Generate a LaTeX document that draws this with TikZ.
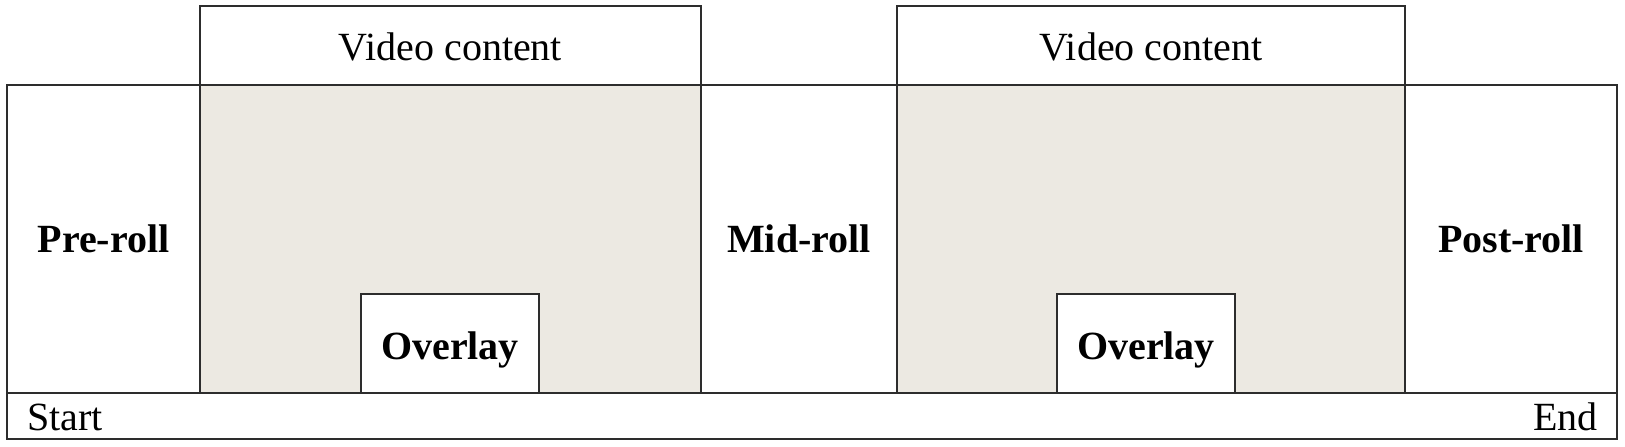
\documentclass[tikz,border=0pt]{standalone}
\usepackage{fontspec}
\setmainfont{Liberation Serif}
\definecolor{linec}{RGB}{45,45,45}
\definecolor{areac}{RGB}{236,233,226}
\begin{document}
\begin{tikzpicture}[x=1pt,y=-1pt,
  box/.style={draw=linec, line width=2pt, inner sep=0pt, outer sep=0pt, anchor=north west},
  area/.style={fill=areac, draw=linec, line width=2pt, inner sep=0pt, outer sep=0pt, anchor=north west},
  txt/.style={font=\fontsize{40}{48}\selectfont, text=black, inner sep=0pt},
  btxt/.style={font=\fontsize{40}{48}\selectfont\bfseries, text=black, inner sep=0pt}]
\useasboundingbox (0,0) rectangle (1625,447);
% main band and timeline bar
\node[box, minimum width=1610pt, minimum height=308pt] (main) at (7,85) {};
\node[box, minimum width=1610pt, minimum height=46pt] (bar) at (7,393) {};
% video content areas
\node[area, minimum width=501pt, minimum height=308pt] (area1) at (200,85) {};
\node[area, minimum width=508pt, minimum height=308pt] (area2) at (897,85) {};
% top headers
\node[box, minimum width=501pt, minimum height=79pt] (vc1) at (200,6) {};
\node[box, minimum width=508pt, minimum height=79pt] (vc2) at (897,6) {};
\node[txt, anchor=base] (vc1t) at (450.5,60) {Video content};
\node[txt, anchor=base] (vc2t) at (1151,60) {Video content};
% overlays
\node[box, fill=white, minimum width=178pt, minimum height=99pt] (ov1) at (361,294) {};
\node[box, fill=white, minimum width=178pt, minimum height=99pt] (ov2) at (1057,294) {};
\node[btxt, anchor=base] (ov1t) at (450,359) {Overlay};
\node[btxt, anchor=base] (ov2t) at (1146,359) {Overlay};
% roll labels
\node[btxt, anchor=base] (pre) at (103.5,252) {Pre-roll};
\node[btxt, anchor=base] (mid) at (799,252) {Mid-roll};
\node[btxt, anchor=base] (post) at (1511,252) {Post-roll};
% timeline labels
\node[txt, anchor=base west] (start) at (27,430) {Start};
\node[txt, anchor=base east] (end) at (1598,430) {End};
\end{tikzpicture}
\end{document}
